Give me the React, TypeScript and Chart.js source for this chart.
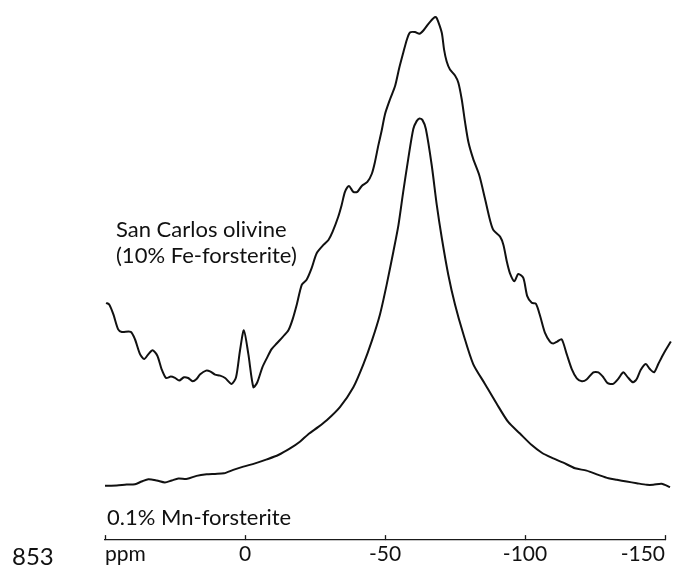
import { useEffect, useRef } from "react";
import { Chart, registerables } from "chart.js";

Chart.register(...registerables);

// Chemical shift (ppm) and intensity (arbitrary units, offset stack) for each spectrum
const sanCarlosPpm = [
  49.6, 48.5, 47.0, 45.3, 44.0, 40.8, 39.3, 37.5, 36.0, 34.5, 33.0, 31.3, 29.8, 28.2, 26.5, 25.0,
  23.5, 21.8, 20.3, 18.7, 17.3, 16.1, 13.9, 12.5, 10.7, 8.9, 7.1, 4.8, 3.2, 1.8, 0.4, -1.2, -3.0,
  -4.4, -6.2, -7.8, -9.5, -11.3, -13.5, -15.5, -17.0, -18.5, -20.3, -22.0, -23.8, -25.6, -28.0,
  -29.8, -31.3, -33.3, -34.5, -35.7, -37.1, -38.7, -40.1, -41.7, -43.7, -45.3, -46.4, -47.6,
  -48.8, -50.0, -51.8, -53.6, -55.1, -56.5, -57.8, -58.9, -60.7, -62.3, -63.7, -65.5, -67.3,
  -68.2, -69.0, -70.3, -71.1, -72.0, -73.2, -75.0, -76.2, -77.4, -78.6, -79.8, -81.5, -83.7,
  -85.7, -87.5, -88.7, -91.1, -92.3, -93.5, -94.6, -96.2, -97.6, -99.4, -100.8, -102.4, -103.9,
  -105.4, -107.1, -108.9, -110.1, -111.5, -113.1, -114.9, -116.7, -118.5, -120.3, -122.0,
  -124.4, -126.2, -128.0, -129.4, -131.5, -133.3, -135.1, -136.5, -138.5, -139.9, -141.3,
  -143.1, -144.6, -146.1, -147.6, -149.4, -152.1,
];
const sanCarlosIntensity = [
  239, 237.3, 227.3, 212.3, 209.7, 209.7, 202.3, 187.3, 182.3, 187.3, 191.3, 185.7, 172.3, 163.3,
  164.7, 163.3, 160.7, 164, 163.3, 160, 162.3, 166.7, 170.7, 170, 166.7, 165.7, 163.3, 157.3, 164,
  190.7, 211.3, 187.3, 154, 159, 174, 183.3, 192.3, 198, 204.7, 211.3, 222.3, 237.3, 257.3, 262.3,
  274, 289, 297.3, 302.3, 310.7, 325.7, 337.3, 350.7, 356.7, 350.7, 350.7, 356.7, 360.7, 369,
  380.7, 397.3, 412.3, 429, 444, 457.3, 475.7, 490.7, 504, 511.3, 511.7, 510, 513.3, 520, 525.7,
  526.7, 522.3, 510.7, 494, 482.3, 474, 468, 460.7, 444, 420.7, 400.7, 384, 367.3, 344, 322.3,
  312.3, 305.7, 297.3, 280.7, 269, 260.7, 268, 264, 245.7, 239, 238, 225.7, 209, 200, 198, 200,
  202.3, 187.3, 172.3, 163, 160, 161.7, 169, 169, 164, 158.3, 157.3, 162.3, 169, 164.7, 159,
  162.3, 171.3, 177.3, 172.3, 169, 177.3, 187.3, 200,
];

const mnPpm = [
  50.0, 45.8, 42.3, 39.3, 36.9, 34.5, 31.5, 28.6, 26.2, 23.8, 20.6, 17.3, 13.7, 10.7, 7.5, 4.2,
  0.6, -3.6, -7.8, -11.9, -16.1, -19.6, -22.6, -26.2, -29.2, -33.9, -38.7, -42.3, -45.3, -48.2,
  -50.6, -53.0, -54.8, -56.5, -58.3, -60.1, -61.3, -62.3, -63.4, -64.6, -66.7, -68.5, -70.3,
  -72.6, -75.0, -78.0, -81.5, -85.7, -89.9, -94.0, -98.2, -102.4, -106.0, -109.5, -113.7,
  -117.9, -122.0, -126.2, -129.8, -132.8, -136.3, -139.9, -143.5, -145.8, -148.8, -151.8,
];
const mnIntensity = [
  54.7, 55, 56, 56.3, 59, 61.3, 60, 58, 60, 62, 61.7, 64.7, 66.3, 66.7, 67.3, 70.7, 74, 77.3,
  81.3, 85.7, 92.3, 99, 106.7, 114, 120.7, 134, 154, 177.3, 200.7, 227.3, 257.3, 290.7, 317.3,
  350.7, 384, 414, 422, 424.7, 423, 414, 377.3, 337.3, 304, 267.3, 237.3, 207.3, 177.3, 157.3,
  137.3, 119, 107.3, 95.7, 88, 83, 78, 72.3, 70, 65.7, 62.3, 60.7, 59, 57.3, 55.7, 55.7, 56.7,
  53.3,
];

// Axis ticks in ascending order; the axis itself runs high-to-low ppm
const tickValues = [-150, -100, -50, 0, 50];
const tickLabels = ["-150", "-100", "-50", "0", "ppm"];

const sanCarlosLabel = ["San Carlos olivine", "(10% Fe-forsterite)"];
const mnLabel = "0.1% Mn-forsterite";
const figureNumber = "853";

const FONT = "Lato, 'Open Sans', sans-serif";

const toPoints = (xs: number[], ys: number[]) => xs.map((x, i) => ({ x, y: ys[i] }));

// Upward tick marks on the ppm axis plus the spectrum captions
const decorations = {
  id: "decorations",
  afterDraw(chart: any) {
    const { ctx, chartArea } = chart;
    const xs = chart.scales.x;
    ctx.save();
    ctx.strokeStyle = "#1a1a1a";
    ctx.lineWidth = 1.3;
    tickValues.forEach((v) => {
      const px = Math.round(xs.getPixelForValue(v)) + 0.5;
      ctx.beginPath();
      ctx.moveTo(px, chartArea.bottom);
      ctx.lineTo(px, chartArea.bottom - 5);
      ctx.stroke();
    });
    ctx.fillStyle = "#111";
    ctx.textAlign = "left";
    ctx.textBaseline = "alphabetic";
    ctx.font = `22px ${FONT}`;
    ctx.fillText(sanCarlosLabel[0], 116, 237);
    ctx.fillText(sanCarlosLabel[1], 116, 263);
    ctx.fillText(mnLabel, 107, 525);
    ctx.font = `24px ${FONT}`;
    ctx.fillText(figureNumber, 12, 565);
    ctx.restore();
  },
};

export default function App() {
  const canvasRef = useRef<HTMLCanvasElement | null>(null);

  useEffect(() => {
    if (!canvasRef.current) return;
    const lineStyle = {
      borderColor: "#111",
      borderWidth: 2,
      pointRadius: 0,
      fill: false,
      tension: 0.25,
      clip: false as const,
    };
    const chart = new Chart(canvasRef.current, {
      type: "line",
      data: {
        datasets: [
          { label: "San Carlos olivine", data: toPoints(sanCarlosPpm, sanCarlosIntensity), ...lineStyle },
          { label: "0.1% Mn-forsterite", data: toPoints(mnPpm, mnIntensity), ...lineStyle },
        ],
      },
      options: {
        animation: false,
        responsive: false,
        devicePixelRatio: 1,
        layout: { padding: { left: 105, right: 19, top: 0, bottom: 0 } },
        plugins: { legend: { display: false }, tooltip: { enabled: false } },
        scales: {
          x: {
            type: "linear",
            reverse: true,
            min: -150,
            max: 50,
            afterFit(scale: any) {
              scale.paddingLeft = 0;
              scale.paddingRight = 0;
            },
            afterBuildTicks(scale: any) {
              scale.ticks = tickValues.map((value) => ({ value }));
            },
            grid: { display: false, drawTicks: false },
            border: { display: true, color: "#1a1a1a", width: 1.3 },
            ticks: {
              padding: 5,
              align: "inner",
              maxRotation: 0,
              autoSkip: false,
              color: "#111",
              font: { family: FONT, size: 21, lineHeight: 0.9 },
              callback: (value: any) => {
                const i = tickValues.indexOf(Number(value));
                return i < 0 ? "" : tickLabels[i];
              },
            },
          },
          y: { display: false, min: 0, max: 544 },
        },
      },
      plugins: [decorations],
    });
    return () => chart.destroy();
  }, []);

  return (
    <div style={{ position: "fixed", left: 0, top: 0, width: 684, height: 569, background: "#fff" }}>
      <canvas ref={canvasRef} width={684} height={569} style={{ display: "block" }} />
    </div>
  );
}
